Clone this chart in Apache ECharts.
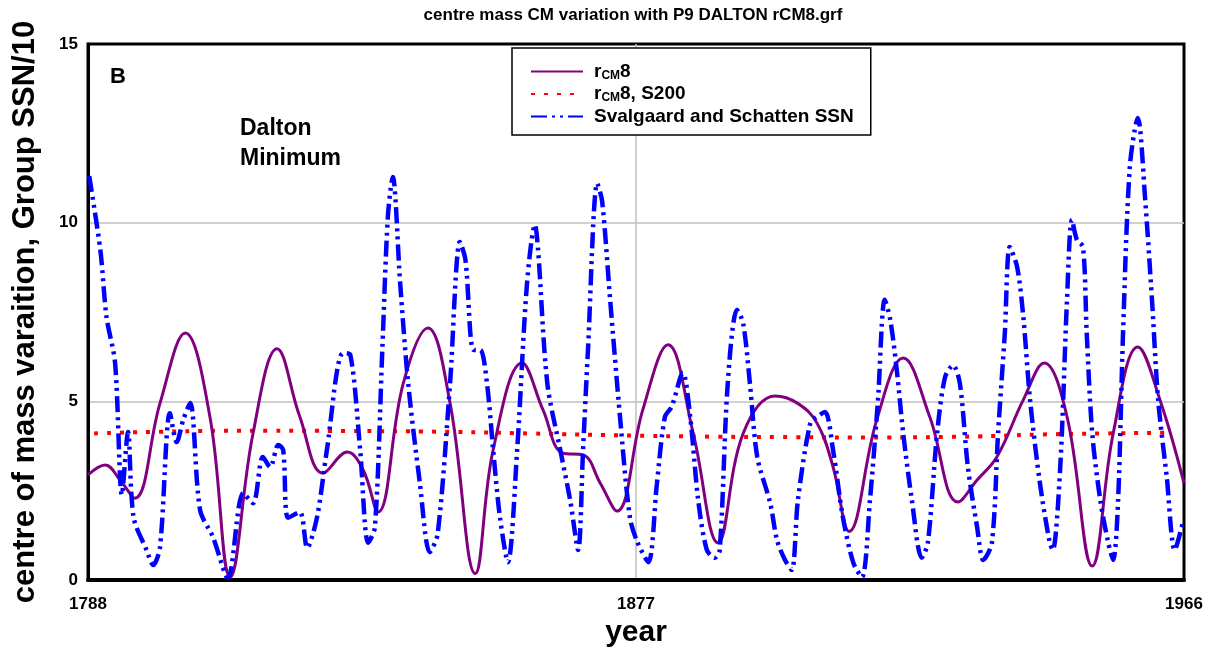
<!DOCTYPE html>
<html>
<head>
<meta charset="utf-8">
<script src="https://cdn.jsdelivr.net/npm/echarts@6/dist/echarts.min.js"></script>
<style>
  html, body { margin: 0; padding: 0; background: #fff; }
  #chart { width: 1213px; height: 648px; }
</style>
</head>
<body>
<div id="chart"></div>
<script>
// r_CM8 (purple line)
var rcmYears = [1788, 1790.8, 1793.2, 1795.6, 1799.7, 1803.8, 1807.8, 1811.1, 1814.8, 1818.7,
    1822.4, 1826.2, 1830.1, 1832.7, 1835.1, 1839.2, 1843.2, 1846.8, 1850.9, 1853.8,
    1858.5, 1861.9, 1865.1, 1868.4, 1871.2, 1873.9, 1878.1, 1882.2, 1886.3, 1890.3,
    1894.4, 1899.6, 1903.2, 1906.4, 1909, 1911.6, 1916.1, 1920.4, 1924.7, 1929.3,
    1932.4, 1935.6, 1939.9, 1943.3, 1947, 1951.1, 1954.5, 1958.5, 1962.1, 1966];
var rcmValues = [2.94, 3.22, 2.8, 2.29, 4.95, 6.91, 4.57, 0.08, 4.1, 6.47,
    4.57, 2.99, 3.58, 3.08, 1.9, 5.5, 7.05, 4.95, 0.18, 3.64,
    6.07, 4.76, 3.55, 3.5, 2.71, 1.93, 4.76, 6.58, 4.1, 1.04,
    4.1, 5.15, 4.95, 4.39, 3.17, 1.36, 4.48, 6.21, 4.57, 2.18,
    2.8, 3.44, 5.04, 6.07, 4.57, 0.39, 4.1, 6.52, 5.04, 2.71];

// r_CM8, S200 (red dotted)
var s200Years = [1789, 1800, 1815, 1830, 1845, 1860, 1877, 1890, 1900, 1915, 1930, 1945, 1964];
var s200Values = [4.1, 4.15, 4.18, 4.17, 4.15, 4.1, 4.04, 4.01, 4.0, 3.99, 4.01, 4.08, 4.12];

// Svalgaard and Schatten SSN / 10 (blue dash-dot-dot)
var ssnYears = [1788.2, 1790, 1791, 1792.4, 1793.5, 1794.5, 1795.4, 1797.5, 1798.6, 1799.7,
    1801.3, 1802.4, 1803.5, 1804.6, 1806.2, 1808.3, 1810.7, 1813.2, 1814.8, 1816.4,
    1817.6, 1818.9, 1819.7, 1820.5, 1822.4, 1823.6, 1825.2, 1826.8, 1829.4, 1830.6,
    1832.2, 1833.5, 1834.6, 1835.8, 1836.7, 1837.5, 1838.7, 1840, 1841.9, 1843.5,
    1844.8, 1846.8, 1848.4, 1849.3, 1850.6, 1851.7, 1852.8, 1853.8, 1854.9, 1856.2,
    1857.7, 1859.3, 1860.6, 1861.1, 1862.6, 1864.7, 1866.3, 1867.6, 1868.4, 1869.2,
    1870.7, 1871.5, 1872.8, 1874.4, 1876, 1877.2, 1879, 1880.4, 1881.7, 1882.8,
    1884.6, 1885.8, 1887.1, 1888.5, 1889.8, 1890.6, 1891.9, 1893.4, 1894.4, 1895.5,
    1896.7, 1898.8, 1899.9, 1901.2, 1902.3, 1903.3, 1905.3, 1906.4, 1907.7, 1909,
    1910.6, 1912.3, 1913.7, 1915, 1916.3, 1917.4, 1918.3, 1919.4, 1920.4, 1921.8,
    1923.4, 1924.4, 1925.9, 1927.2, 1928.5, 1929.6, 1930.9, 1932.4, 1933.4, 1934.8,
    1935.8, 1936.9, 1937.7, 1938.9, 1939.9, 1941, 1942.6, 1944.2, 1944.7, 1945.9,
    1947, 1947.8, 1948.6, 1949.6, 1950.2, 1951.1, 1952.4, 1953.7, 1954.5, 1955.3,
    1956.1, 1957.2, 1958.5, 1959.7, 1960.8, 1961.8, 1963.2, 1964.5, 1965.8];
var ssnValues = [11.3, 9.24, 7.37, 6.07, 2.38, 4.14, 1.76, 0.84, 0.42, 0.92,
    4.67, 3.86, 4.5, 4.95, 1.96, 1.2, 0.06, 2.43, 2.15, 3.44,
    3.16, 3.78, 3.64, 1.74, 1.9, 0.9, 1.76, 3.64, 6.35, 6.3,
    3.64, 1.04, 1.48, 6.44, 10.16, 11.28, 8.3, 5.5, 2.71, 0.78,
    1.3, 5.5, 9.46, 8.96, 6.44, 6.44, 5.5, 3.64, 1.76, 0.5,
    3.64, 8.3, 9.94, 9.24, 5.5, 3.64, 2.24, 0.84, 3.64, 6.44,
    11.1, 10.6, 7.84, 4.57, 1.76, 1.07, 0.5, 2.71, 4.57, 4.85,
    5.8, 4.57, 2.24, 0.84, 0.62, 0.84, 5.5, 7.56, 7.19, 5.5,
    3.44, 2.15, 1.12, 0.56, 0.28, 2.24, 4.39, 4.57, 4.7, 3.64,
    1.76, 0.48, 0.08, 2.24, 5.04, 7.84, 7.28, 5.8, 4.1, 2.24,
    0.62, 1.04, 4.1, 5.68, 6.01, 5.5, 3.16, 1.48, 0.56, 1.04,
    4.1, 6.91, 9.32, 8.76, 7.37, 5.04, 2.71, 1.04, 0.84, 3.16,
    7.84, 10.08, 9.52, 9.32, 6.91, 4.1, 2.24, 1.04, 0.56, 2.24,
    6.91, 11.56, 12.93, 10.63, 7.84, 5.04, 2.88, 0.84, 1.6];

var xTicks = [1788, 1877, 1966];
var yTicks = [0, 5, 10, 15];

function pairs(xs, ys) {
    return xs.map(function (x, i) { return [x, ys[i]]; });
}

var font = 'Liberation Sans, Arial, sans-serif';

(function(){
    var myChart = echarts.init(document.getElementById('chart'));
    var option = {
        backgroundColor: '#fff',
        animation: false,
        title: {
            text: 'centre mass CM variation with P9 DALTON rCM8.grf',
            left: 628,
            textAlign: 'center',
            top: 2,
            textStyle: { fontFamily: font, fontSize: 17, fontWeight: 'bold', color: '#000' }
        },
        legend: {
            orient: 'vertical',
            left: 512,
            top: 48,
            padding: [14, 17, 9, 18],
            itemGap: 3,
            itemWidth: 52,
            itemHeight: 18,
            borderColor: '#000',
            borderWidth: 1.5,
            backgroundColor: '#fff',
            itemStyle: { opacity: 0 },
            data: ['rCM8', 'rCM8, S200', 'Svalgaard and Schatten SSN'],
            formatter: function (name) {
                if (name === 'rCM8') return '{f|r}{s|CM}{b|8}';
                if (name === 'rCM8, S200') return '{f|r}{s|CM}{b|8, S200}';
                return '{f|' + name + '}';
            },
            textStyle: {
                color: '#000',
                rich: {
                    f: { fontFamily: font, fontSize: 19, fontWeight: 'bold', color: '#000', padding: [0, 0, 0, 6] },
                    b: { fontFamily: font, fontSize: 19, fontWeight: 'bold', color: '#000' },
                    s: { fontFamily: font, fontSize: 12, fontWeight: 'bold', color: '#000', padding: [8, 0, 0, 0] }
                }
            }
        },
        grid: {
            left: 88,
            right: 29,
            top: 44,
            bottom: 68,
            outerBoundsMode: 'none',
            show: true,
            borderColor: '#000',
            borderWidth: 3,
            backgroundColor: '#fff'
        },
        xAxis: {
            type: 'value',
            min: xTicks[0],
            max: xTicks[xTicks.length - 1],
            interval: xTicks[1] - xTicks[0],
            name: 'year',
            nameLocation: 'middle',
            nameGap: 36,
            nameTextStyle: { fontFamily: font, fontSize: 30, fontWeight: 'bold', color: '#000' },
            axisLine: { lineStyle: { color: '#000', width: 4 } },
            axisTick: { show: false },
            axisLabel: {
                margin: 16,
                formatter: function (v) { return String(v); },
                fontFamily: font, fontSize: 17, fontWeight: 'bold', color: '#000'
            },
            splitLine: {
                show: true, showMinLine: false, showMaxLine: false,
                lineStyle: { color: '#c0c0c0', width: 1.5 }
            }
        },
        yAxis: {
            type: 'value',
            min: yTicks[0],
            max: yTicks[yTicks.length - 1],
            interval: yTicks[1] - yTicks[0],
            name: 'centre of mass varaition, Group SSN/10',
            nameLocation: 'middle',
            nameRotate: 90,
            nameGap: 47,
            nameTextStyle: { fontFamily: font, fontSize: 31, fontWeight: 'bold', color: '#000' },
            axisLine: { show: true, lineStyle: { color: '#000', width: 3 } },
            axisTick: { show: false },
            axisLabel: {
                margin: 10,
                fontFamily: font, fontSize: 17, fontWeight: 'bold', color: '#000'
            },
            splitLine: {
                show: true, showMinLine: false, showMaxLine: false,
                lineStyle: { color: '#c0c0c0', width: 1.5 }
            }
        },
        graphic: [
            {
                type: 'text', left: 110, top: 66,
                style: { text: 'B', fontFamily: font, fontSize: 22, fontWeight: 'bold', fill: '#000' }
            },
            {
                type: 'text', left: 240, top: 114,
                style: { text: 'Dalton\nMinimum', fontFamily: font, fontSize: 23, fontWeight: 'bold', lineHeight: 30, fill: '#000' }
            }
        ],
        series: [
            {
                name: 'rCM8',
                type: 'line',
                smooth: 0.4,
                symbol: 'none',
                z: 3,
                lineStyle: { color: '#800080', width: 3 },
                itemStyle: { color: '#800080' },
                data: pairs(rcmYears, rcmValues)
            },
            {
                name: 'rCM8, S200',
                type: 'line',
                smooth: true,
                symbol: 'none',
                z: 2,
                lineStyle: { color: '#ff0000', width: 4, type: [4, 9] },
                itemStyle: { color: '#ff0000' },
                data: pairs(s200Years, s200Values)
            },
            {
                name: 'Svalgaard and Schatten SSN',
                type: 'line',
                smooth: 0.3,
                symbol: 'none',
                z: 4,
                lineStyle: { color: '#0000ff', width: 4.5, type: [16, 5, 3, 5, 3, 5] },
                itemStyle: { color: '#0000ff' },
                data: pairs(ssnYears, ssnValues)
            }
        ]
    };
    myChart.setOption(option);
    window.addEventListener('resize', function(){
        myChart.resize();
    });
})();
</script>
</body>
</html>
